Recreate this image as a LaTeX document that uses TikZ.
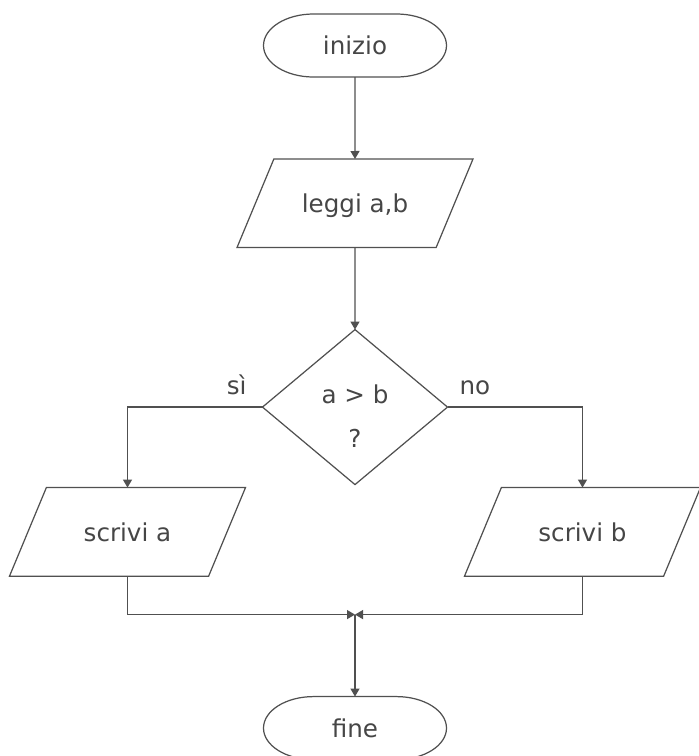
\documentclass[tikz,border=0pt]{standalone}
\usepackage{fontspec}
\setmainfont{DejaVu Sans}
\usetikzlibrary{shapes.geometric, arrows.meta, positioning}
\definecolor{linecolor}{RGB}{80, 80, 80}
\definecolor{labelcolor}{RGB}{70, 70, 70}
\tikzset{
    % Lines
    flowline/.style={draw=linecolor, line width=0.7pt},
    % Base styles
    basenode/.style={
        align=center, text=labelcolor, inner sep=0pt, outer sep=0pt,
        font=\fontsize{14}{25}\selectfont
    },
    % Start / end
    terminal/.style={
        basenode, minimum width=3.66cm, minimum height=1.26cm,
        append after command={\pgfextra{
            \draw[flowline] ([xshift=1cm]\tikzlastnode.north west)
                -- ([xshift=-1cm]\tikzlastnode.north east)
                arc[start angle=90, end angle=-90, x radius=1cm, y radius=0.63cm]
                -- ([xshift=1cm]\tikzlastnode.south west)
                arc[start angle=270, end angle=90, x radius=1cm, y radius=0.63cm]
                -- cycle;
        }}
    },
    % Input / output
    ionode/.style={
        basenode, flowline, trapezium,
        trapezium left angle=67.4, trapezium right angle=112.6,
        trapezium stretches body,
        text height=12pt, text depth=1pt, inner ysep=18.7pt,
        minimum width=4.72cm
    },
    % Decision diamond
    decision/.style={
        basenode, flowline, diamond, aspect=1.2,
        minimum width=3.7cm, minimum height=3.1cm
    },
    % Arrows
    myarrow/.style={flowline, -{Triangle[length=1.6mm, width=1.8mm]}},
    % Labels
    branchlabel/.style={basenode}
}
\begin{document}
\begin{tikzpicture}[node distance=1.64cm]

\useasboundingbox (0,0) rectangle (13.98,-15.12);

% Start
\node (inizio) [terminal] at (7.1,-0.91) {inizio};

% Input
\node (leggi) [ionode, below=of inizio] {leggi a,b};

% Decision
\node (test) [decision, below=of leggi] {\rule{0pt}{21pt}a > b\\?};

% Outputs (side by side)
\node (scrivia) [ionode, below=0.06cm of test, xshift=-4.55cm] {scrivi a};
\node (scrivib) [ionode, below=0.06cm of test, xshift=4.55cm] {scrivi b};

% End
\node (fine) [terminal, below=4.24cm of test] {fine};
\coordinate [above=1.64cm of fine] (join);

% Arrows
\draw[myarrow] (inizio) -- (leggi);
\draw[myarrow] (leggi) -- (test);
\draw[myarrow] (test.west) -| (scrivia)
    node[branchlabel, pos=0, above left=0.25cm and 0.32cm] {sì};
\draw[myarrow] (test.east) -| (scrivib)
    node[branchlabel, pos=0, above right=0.25cm and 0.24cm] {no};
\draw[myarrow] (scrivia) |- (join);
\draw[myarrow] (scrivib) |- (join);
\draw[myarrow] (join) -- (fine);

\end{tikzpicture}
\end{document}
